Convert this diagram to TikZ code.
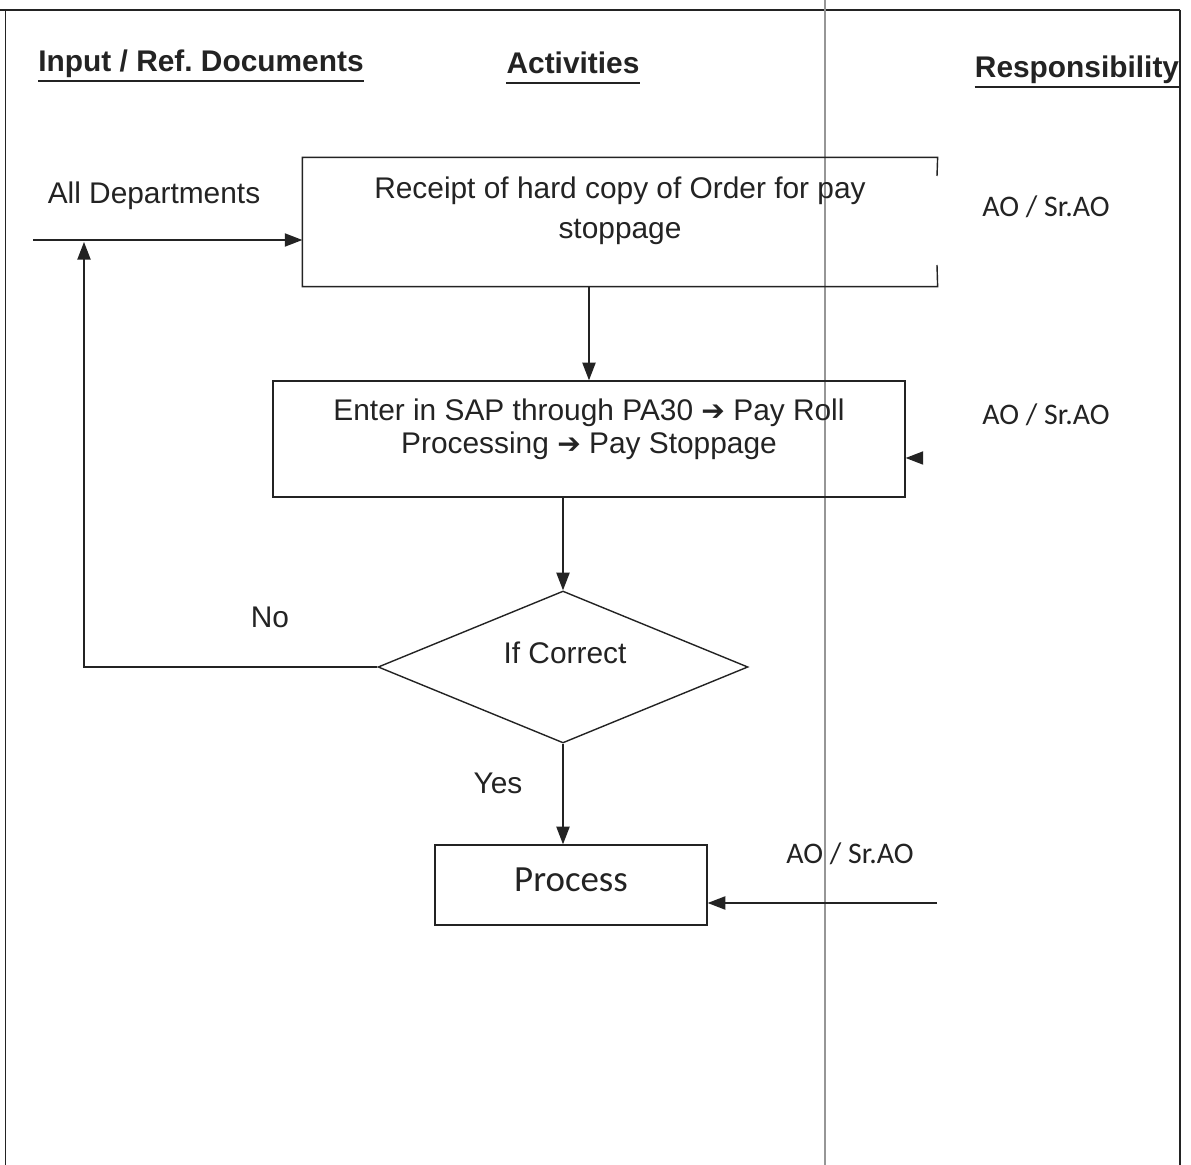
\documentclass[tikz,border=0pt]{standalone}
\usepackage{fontspec}
\setmainfont{Liberation Sans}
\newfontfamily\calibri{Carlito}
\newfontfamily\symfont{DejaVu Sans}
\usetikzlibrary{arrows.meta,shapes.geometric,positioning}
\definecolor{ink}{RGB}{35,35,35}
\definecolor{colrule}{RGB}{150,150,150}
\newcommand{\flowarrow}{{\symfont\fontsize{16}{19}\selectfont ➔}}

\tikzset{
  flowbox/.style={draw=ink, line width=0.8pt, rectangle, inner sep=0pt},
  boxtext/.style={text=ink, align=center, font=\fontsize{17}{19}\selectfont},
  head/.style={text=ink, inner sep=0pt, text depth=4.5pt, font=\bfseries\fontsize{17}{20}\selectfont},
  headline/.style={draw=ink, line width=1.4pt},
  resp/.style={text=ink, font=\calibri\fontsize{17}{20}\selectfont},
  flow/.style={draw=ink, line width=0.8pt, -{Triangle[length=10pt,width=7.5pt]}},
}

\begin{document}
\begin{tikzpicture}[x=0.02cm, y=-0.02cm]
  \useasboundingbox (0,0) rectangle (1191,1165);
  % frame and column rule
  \draw[ink, line width=0.9pt] (0,10) -- (1180,10);
  \draw[ink, line width=0.4pt] (5,10) -- (5,1165);
  \draw[ink, line width=0.6pt] (1180,10) -- (1180,1165);
  \draw[colrule, line width=0.8pt] (825,0) -- (825,1165);

  % column heads
  \node[head] (inhead) at (201,65) {Input / Ref.\ Documents};
  \node[head] (acthead) at (573,67) {Activities};
  \node[head] (resphead) at (1077,71) {Responsibility};
  \foreach \h in {inhead,acthead,resphead}
    \draw[headline] ([yshift=-0.5pt]\h.south west) -- ([yshift=-0.5pt]\h.south east);

  % boxes
  \node[flowbox, draw=none, minimum width=12.68cm, minimum height=2.56cm] (receipt) at (620,222) {};
  \draw[ink, line width=0.8pt] (937,176) -- (receipt.north east) -- (receipt.north west)
    -- (receipt.south west) -- (receipt.south east) -- (937,265);
  \node[boxtext, font=\fontsize{17}{22.7}\selectfont] (receipttext) at (620,211)
    {Receipt of hard copy of Order for pay\\stoppage};

  \node[flowbox, minimum width=12.64cm, minimum height=2.32cm] (entry) at (589,439) {};
  \node[boxtext] (entrytext) at (589,429)
    {Enter in SAP through PA30 \flowarrow{} Pay Roll\\Processing \flowarrow{} Pay Stoppage};

  \node[flowbox, shape=diamond, minimum width=7.4cm, minimum height=3.04cm] (check) at (563,667) {};
  \node[boxtext] (checktext) at (565,653) {If Correct};

  \node[flowbox, minimum width=5.44cm, minimum height=1.6cm] (process) at (571,885) {};
  \node[text=ink, font=\calibri\fontsize{21}{24}\selectfont] (processtext) at (571,880) {Process};

  % side texts
  \node[boxtext] (alldeps) at (154,196) {All Departments};
  \node[resp] (resp1) at (1046,207) {AO / Sr.AO};
  \node[resp] (resp2) at (1046,415) {AO / Sr.AO};
  \node[resp] (resp3) at (850,854) {AO / Sr.AO};
  \node[boxtext] (nolbl) at (270,617) {No};
  \node[boxtext] (yeslbl) at (498,783) {Yes};

  % connectors
  \coordinate (alldepin) at (33,240);
  \coordinate (back) at (84,242);
  \coordinate (entrystub) at (922,458);
  \coordinate (processin) at (937,903);
  \draw[flow] (alldepin) -- (receipt.west |- alldepin);
  \draw[flow] (receipt.south -| entry.north) -- (entry.north);
  \draw[flow] (entry.south -| check.north) -- (check.north);
  \draw[flow] (check.west) -| (back);
  \draw[flow] (check.south) -- (process.north -| check.south);
  \draw[flow] (entrystub) -- (entry.east |- entrystub);
  \draw[flow] (processin) -- (process.east |- processin);
\end{tikzpicture}
\end{document}
